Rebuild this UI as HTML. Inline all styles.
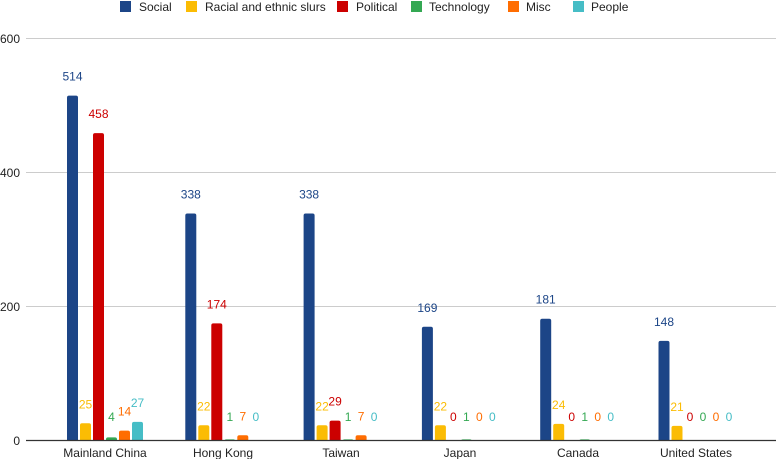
<!DOCTYPE html>
<html><head><style>body{margin:0;background:#fff}svg{display:block;font-family:"Liberation Sans",sans-serif}</style></head><body>
<svg width="776" height="459" viewBox="0 0 776 459">
<g font-size="12" fill="#222">
<rect x="120" y="1" width="11" height="11" fill="#1c4587"/><text x="139" y="11">Social</text>
<rect x="186" y="1" width="11" height="11" fill="#fbbc04"/><text x="205" y="11">Racial and ethnic slurs</text>
<rect x="337" y="1" width="11" height="11" fill="#cc0000"/><text x="356" y="11">Political</text>
<rect x="411" y="1" width="11" height="11" fill="#34a853"/><text x="429" y="11">Technology</text>
<rect x="508" y="1" width="11" height="11" fill="#ff6d01"/><text x="526" y="11">Misc</text>
<rect x="573" y="1" width="11" height="11" fill="#46bdc6"/><text x="591" y="11">People</text>
</g>
<g stroke="#ccc" stroke-width="1">
<line x1="26" y1="38.5" x2="776" y2="38.5"/><line x1="26" y1="172.5" x2="776" y2="172.5"/><line x1="26" y1="306.5" x2="776" y2="306.5"/>
</g>
<g font-size="12" fill="#222" text-anchor="end">
<text x="20" y="43">600</text><text x="20" y="177">400</text><text x="20" y="311">200</text><text x="20" y="445">0</text>
</g>
<g id="bars" font-size="12" text-anchor="middle"></g>
<line x1="26" y1="440.5" x2="776" y2="440.5" stroke="#333" stroke-width="1.2"/>
<g font-size="12" fill="#222" text-anchor="middle">
<text x="105" y="457">Mainland China</text><text x="223" y="457">Hong Kong</text><text x="341" y="457">Taiwan</text><text x="460" y="457">Japan</text><text x="578" y="457">Canada</text><text x="696" y="457">United States</text>
</g>
</svg>
<script>
var d=[[514,25,458,4,14,27],[338,22,174,1,7,0],[338,22,29,1,7,0],[169,22,0,1,0,0],[181,24,0,1,0,0],[148,21,0,0,0,0]];
var c=["#1c4587","#fbbc04","#cc0000","#34a853","#ff6d01","#46bdc6"];
var g=document.getElementById("bars"),s="";
for(var i=0;i<6;i++)for(var j=0;j<6;j++){var v=d[i][j],x=67+i*118.3+j*13,h=v*0.67,t=440-h;
if(h>0){s+='<path d="M'+x+' 440V'+(t+2)+'q0 -2 2 -2h7q2 0 2 2V440z" fill="'+c[j]+'"/>';}
s+='<text x="'+(x+5.5)+'" y="'+(Math.min(t,436)-15)+'" fill="'+c[j]+'">'+v+'</text>';}
g.innerHTML=s;
</script>
</body></html>
